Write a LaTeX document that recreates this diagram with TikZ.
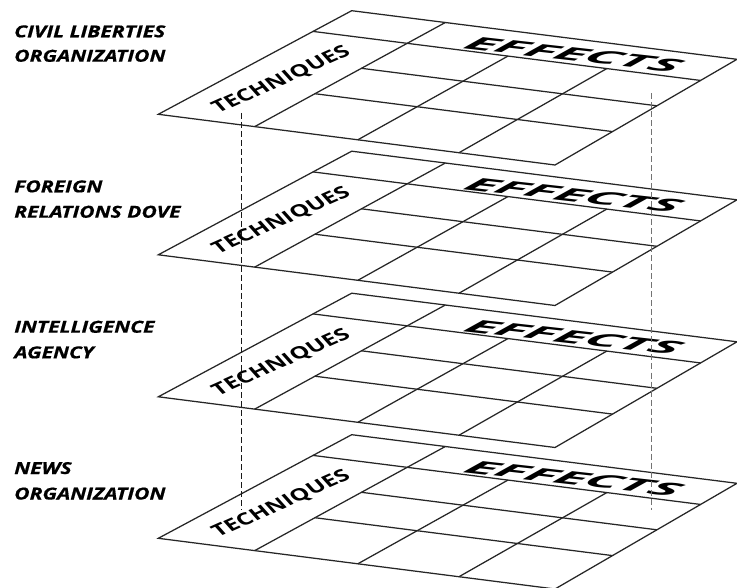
\documentclass[tikz,border=0pt]{standalone}
\usepackage{fontspec}
\setmainfont{Open Sans}
\newfontfamily\lblfam{Open Sans}[BoldItalicFeatures={FakeBold=0.6}]
\newfontfamily\efffam{Open Sans}
\newfontfamily\tecfam{Open Sans}
\usetikzlibrary{calc}
\newcommand\lblfont{\lblfam\bfseries\itshape\fontsize{16.5}{20}\selectfont}
\newcommand\effont{\efffam\bfseries\itshape\fontsize{20}{24}\selectfont}
\newcommand\tecfont{\tecfam\bfseries\fontsize{20}{24}\selectfont}
\newlength\lblW \newlength\effW \newlength\effH \newlength\tecW \newlength\tecH
\newcommand\plane[2]{% #1 name, #2 vertical offset
  \coordinate (#1L) at (158.3,{114.3+#2});
  \coordinate (#1B) at (555,{165+#2});
  \coordinate (#1T) at (351.7,{10.7+#2});
  \coordinate (#1R) at (737,{59.3+#2});
  \coordinate (#1fa) at ($(#1L)!0.243!(#1B)$);
  \coordinate (#1ka) at ($(#1T)!0.243!(#1R)$);
  \coordinate (#1fb) at ($(#1L)!0.503!(#1B)$);
  \coordinate (#1kb) at ($(#1T)!0.503!(#1R)$);
  \coordinate (#1fc) at ($(#1L)!0.758!(#1B)$);
  \coordinate (#1kc) at ($(#1T)!0.758!(#1R)$);
  \draw[gridline] (#1L) -- (#1B) -- (#1R) -- (#1T) -- cycle;
  \draw[gridline] (#1fa) -- (#1ka);
  \draw[gridline] (#1fb) -- ($(#1fb)!0.8!(#1kb)$);
  \draw[gridline] (#1fc) -- ($(#1fc)!0.8!(#1kc)$);
  \draw[gridline] ($(#1L)!0.8!(#1T)$) -- ($(#1B)!0.8!(#1R)$);
  \draw[gridline] ($(#1fa)!0.56!(#1ka)$) -- ($(#1B)!0.56!(#1R)$);
  \draw[gridline] ($(#1fa)!0.316!(#1ka)$) -- ($(#1B)!0.316!(#1R)$);
  \node[efftext] (#1eff) at (461,{48.5+#2}) {EFFECTS};
  \node[tectext] (#1tec) at (218,{114+#2}) {TECHNIQUES};
}
\begin{document}
\settowidth\lblW{\lblfont CIVIL LIBERTIES}%
\settowidth\effW{\effont EFFECTS}%
\settoheight\effH{\effont E}%
\settowidth\tecW{\tecfont TECHNIQUES}%
\settoheight\tecH{\tecfont T}%
\pgfmathsetmacro\lsx{151/\lblW}%
\pgfmathsetmacro\ea{214/\effW*0.9938}%
\pgfmathsetmacro\eb{-214/\effW*0.1113}%
\pgfmathsetmacro\ec{11.5/\effH}%
\pgfmathsetmacro\ed{12/\effH}%
\pgfmathsetmacro\ta{146/\tecW*0.9135}%
\pgfmathsetmacro\tb{146/\tecW*0.4067}%
\pgfmathsetmacro\tc{-9/\tecH}%
\pgfmathsetmacro\td{10/\tecH}%
\begin{tikzpicture}[x=1pt,y=-1pt,
  gridline/.style={draw=black!85,line width=1.25pt,line join=miter},
  dashline/.style={line width=0.9pt,dash pattern=on 6pt off 3pt},
  lbl/.style={font=\lblfont,anchor=base west,inner sep=0pt,xscale=\lsx},
  efftext/.style={font=\effont,anchor=base west,inner sep=0pt,cm={\ea,\eb,\ec,\ed,(0,0)}},
  tectext/.style={font=\tecfont,anchor=base west,inner sep=0pt,cm={\ta,\tb,\tc,\td,(0,0)}}]
\useasboundingbox (0,0) rectangle (737,588);
\clip (0,0) rectangle (737,588);
\fill[white] (0,0) rectangle (737,588);
\plane{p1}{0}
\plane{p2}{140.5}
\plane{p3}{282.5}
\plane{p4}{424}
\coordinate (dl1) at (241.7,113);
\coordinate (dl2) at (241.7,510);
\coordinate (dr1) at (651.5,93.5);
\coordinate (dr2) at (651.5,510);
\draw[dashline,draw=black!90] (dl1) -- (dl2);
\draw[dashline,draw=black!55] (dr1) -- (dr2);
\node[lbl] (l1a) at (14,37.3) {CIVIL LIBERTIES};
\node[lbl] (l1b) at (14,61.7) {ORGANIZATION};
\node[lbl] (l2a) at (14,192.3) {FOREIGN};
\node[lbl] (l2b) at (14,217.7) {RELATIONS DOVE};
\node[lbl] (l3a) at (14,332.7) {INTELLIGENCE};
\node[lbl] (l3b) at (14,358.3) {AGENCY};
\node[lbl] (l4a) at (14,474) {NEWS};
\node[lbl] (l4b) at (14,499.5) {ORGANIZATION};
\end{tikzpicture}
\end{document}
